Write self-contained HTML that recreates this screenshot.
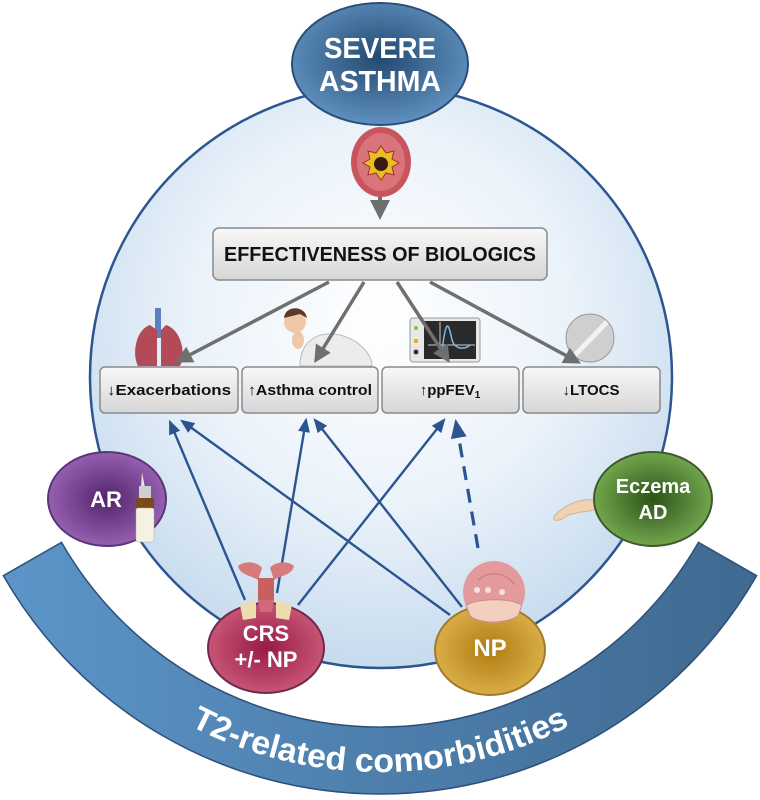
<!DOCTYPE html>
<html><head><meta charset="utf-8"><style>html,body{margin:0;padding:0;background:#fff}svg{display:block}</style></head>
<body>
<svg width="760" height="800" viewBox="0 0 760 800" xmlns="http://www.w3.org/2000/svg" font-family="'Liberation Sans', sans-serif">
<defs>
<radialGradient id="bg" cx="50%" cy="40%" r="60%"><stop offset="0" stop-color="#ffffff"/><stop offset="0.55" stop-color="#eaf2fa"/><stop offset="1" stop-color="#c6dbee"/></radialGradient>
<radialGradient id="sa" cx="50%" cy="45%" r="55%"><stop offset="0" stop-color="#23496f"/><stop offset="1" stop-color="#5f90bf"/></radialGradient>
<radialGradient id="ar" cx="50%" cy="50%" r="55%"><stop offset="0" stop-color="#52246a"/><stop offset="1" stop-color="#9d65b8"/></radialGradient>
<radialGradient id="ec" cx="50%" cy="50%" r="55%"><stop offset="0" stop-color="#2b5319"/><stop offset="1" stop-color="#79ae52"/></radialGradient>
<radialGradient id="crs" cx="50%" cy="50%" r="55%"><stop offset="0" stop-color="#981a46"/><stop offset="1" stop-color="#cc5a7a"/></radialGradient>
<radialGradient id="np" cx="50%" cy="50%" r="55%"><stop offset="0" stop-color="#b07c12"/><stop offset="1" stop-color="#ddb24c"/></radialGradient>
<linearGradient id="band" x1="0" y1="0" x2="1" y2="0"><stop offset="0" stop-color="#5c95c9"/><stop offset="1" stop-color="#3f6990"/></linearGradient>
<linearGradient id="box" x1="0" y1="0" x2="0" y2="1"><stop offset="0" stop-color="#f8f8f8"/><stop offset="1" stop-color="#d6d6d6"/></linearGradient>
<marker id="ga" markerWidth="5" markerHeight="5" refX="4" refY="2.5" orient="auto" markerUnits="strokeWidth"><path d="M0,0 L5,2.5 L0,5 Z" fill="#6f6f6f"/></marker>
<marker id="ba" markerWidth="6" markerHeight="5" refX="5" refY="2.5" orient="auto" markerUnits="strokeWidth"><path d="M0,0 L6,2.5 L0,5 Z" fill="#2c5590"/></marker>
<path id="tp" d="M23.2,566 A412 412 0 0 0 736.8,566"/>
</defs>

<!-- band -->
<path d="M3.4,575.7 A434 434 0 0 0 756.6,575.7 L698.5,542.4 A367 367 0 0 1 61.5,542.4 Z" fill="url(#band)" stroke="#2d4f7a" stroke-width="1.5"/>
<text font-size="33" font-weight="bold" fill="#fff" text-anchor="middle"><textPath href="#tp" startOffset="50%" textLength="395" lengthAdjust="spacingAndGlyphs">T2-related comorbidities</textPath></text>

<!-- main circle -->
<circle cx="381" cy="377" r="291" fill="url(#bg)" stroke="#2c5591" stroke-width="2.5"/>

<!-- severe asthma -->
<ellipse cx="380" cy="64" rx="88" ry="61" fill="url(#sa)" stroke="#2c4f7a" stroke-width="2"/>
<text x="380" y="58" font-size="29" font-weight="bold" fill="#fff" text-anchor="middle" textLength="112" lengthAdjust="spacingAndGlyphs">SEVERE</text>
<text x="380" y="91" font-size="29" font-weight="bold" fill="#fff" text-anchor="middle" textLength="122" lengthAdjust="spacingAndGlyphs">ASTHMA</text>

<!-- airway -->
<ellipse cx="381" cy="162" rx="30" ry="35" fill="#c8545d"/>
<ellipse cx="381" cy="162" rx="24" ry="29" fill="#d9757a"/>
<path d="M381,146 l5,7 8,-2 -2,8 7,4 -7,4 2,8 -8,-2 -5,7 -5,-7 -8,2 2,-8 -7,-4 7,-4 -2,-8 8,2z" fill="#e6c020" stroke="#a82a30"/>
<circle cx="381" cy="164" r="7" fill="#3a1a14"/>

<!-- gray arrow -->
<line x1="380" y1="197" x2="380" y2="216" stroke="#6f6f6f" stroke-width="4" marker-end="url(#ga)"/>

<!-- effectiveness box -->
<rect x="213" y="228" width="334" height="52" rx="6" fill="url(#box)" stroke="#8a8a8a" stroke-width="1.5"/>
<text x="380" y="261" font-size="20" font-weight="bold" fill="#111" text-anchor="middle" textLength="312" lengthAdjust="spacingAndGlyphs">EFFECTIVENESS OF BIOLOGICS</text>

<!-- illustrations -->
<g>
<rect x="155" y="308" width="6" height="30" fill="#5b7fbf"/>
<path d="M150,325 C135,330 132,355 138,366 L157,366 L157,330Z" fill="#b24a58"/>
<path d="M166,325 C182,330 186,355 180,366 L161,366 L161,330Z" fill="#b24a58"/>
</g>
<g>
<path d="M300,366 C300,340 320,330 340,335 C360,340 372,355 372,366Z" fill="#ececec" stroke="#bbb"/>
<circle cx="295" cy="322" r="11" fill="#f0c8a8"/>
<path d="M284,318 C285,305 305,305 307,318 L300,314Z" fill="#5a3a2a"/>
<ellipse cx="298" cy="340" rx="6" ry="9" fill="#f0c8a8"/>
</g>
<g>
<rect x="410" y="318" width="70" height="44" rx="3" fill="#e8e8e8" stroke="#999"/>
<rect x="424" y="321" width="52" height="38" fill="#2a2a2a"/>
<path d="M440,322 L440,355 M428,345 L475,345" stroke="#ccc" stroke-width="1"/>
<path d="M442,350 C446,320 448,320 452,340 C456,352 468,348 470,345" stroke="#7fb8e8" stroke-width="1.5" fill="none"/>
<circle cx="416" cy="328" r="2" fill="#7c3"/>
<rect x="414" y="339" width="4" height="4" fill="#e9b020"/>
<circle cx="416" cy="352" r="2.5" fill="#333"/>
</g>
<g>
<circle cx="590" cy="338" r="24" fill="#cfcfcf" stroke="#999"/>
<line x1="575" y1="355" x2="607" y2="322" stroke="#f2f2f2" stroke-width="5"/>
</g>

<!-- gray arrows to boxes -->
<g stroke="#6f6f6f" stroke-width="3.5" fill="none">
<line x1="329" y1="282" x2="178" y2="361" marker-end="url(#ga)"/>
<line x1="364" y1="282" x2="316" y2="360" marker-end="url(#ga)"/>
<line x1="397" y1="282" x2="448" y2="360" marker-end="url(#ga)"/>
<line x1="430" y1="282" x2="578" y2="362" marker-end="url(#ga)"/>
</g>

<!-- outcome boxes -->
<g stroke="#8a8a8a" stroke-width="1.5" fill="url(#box)">
<rect x="100" y="367" width="138" height="46" rx="5"/>
<rect x="242" y="367" width="136" height="46" rx="5"/>
<rect x="382" y="367" width="137" height="46" rx="5"/>
<rect x="523" y="367" width="137" height="46" rx="5"/>
</g>
<g font-size="15" font-weight="bold" fill="#111" text-anchor="middle">
<text x="169" y="395" textLength="124" lengthAdjust="spacingAndGlyphs">↓Exacerbations</text>
<text x="310" y="395" textLength="124" lengthAdjust="spacingAndGlyphs">↑Asthma control</text>
<text x="450" y="395">↑ppFEV<tspan font-size="10" dy="3">1</tspan></text>
<text x="591" y="395">↓LTOCS</text>
</g>

<!-- blue arrows -->
<g stroke="#2c5590" stroke-width="2.6" fill="none">
<line x1="245" y1="600" x2="170" y2="422" marker-end="url(#ba)" stroke-width="2.4"/>
<line x1="450" y1="615" x2="182" y2="421" marker-end="url(#ba)" stroke-width="2.4"/>
<line x1="277" y1="593" x2="306" y2="420" marker-end="url(#ba)" stroke-width="2.4"/>
<line x1="462" y1="607" x2="315" y2="420" marker-end="url(#ba)" stroke-width="2.4"/>
<line x1="298" y1="605" x2="444" y2="420" marker-end="url(#ba)" stroke-width="2.4"/>
<line x1="478" y1="548" x2="456" y2="422" marker-end="url(#ba)" stroke-width="3.2" stroke-dasharray="14,9"/>
</g>

<!-- AR -->
<ellipse cx="107" cy="499" rx="59" ry="47" fill="url(#ar)" stroke="#5a3575" stroke-width="2"/>
<text x="106" y="507" font-size="22" font-weight="bold" fill="#fff" text-anchor="middle">AR</text>
<path d="M142,472 L145,488 L141,488Z" fill="#e8e8e8"/>
<rect x="139" y="486" width="12" height="12" fill="#cfcfcf"/>
<rect x="136" y="498" width="18" height="22" rx="2" fill="#7a4a1a"/>
<rect x="136" y="508" width="18" height="34" rx="2" fill="#f6f2e2" stroke="#aaa" stroke-width="0.5"/>

<!-- Eczema -->
<path d="M595,500 C580,498 565,505 555,515 C550,522 560,522 568,515 L580,512 C588,512 596,510 600,505Z" fill="#f0d2b2" stroke="#d6b090"/>
<ellipse cx="653" cy="499" rx="59" ry="47" fill="url(#ec)" stroke="#3d5a2a" stroke-width="2"/>
<text x="653" y="493" font-size="20" font-weight="bold" fill="#fff" text-anchor="middle">Eczema</text>
<text x="653" y="519" font-size="20" font-weight="bold" fill="#fff" text-anchor="middle">AD</text>

<!-- CRS -->
<ellipse cx="266" cy="648" rx="58" ry="45" fill="url(#crs)" stroke="#6e2a4e" stroke-width="2"/>
<g>
<path d="M238,566 C245,560 258,562 262,568 L258,580 C250,575 240,575 238,566Z" fill="#d77a7a"/>
<path d="M294,566 C287,560 274,562 270,568 L274,580 C282,575 292,575 294,566Z" fill="#d77a7a"/>
<rect x="258" y="578" width="16" height="22" fill="#c86060"/>
<path d="M240,605 L256,600 L256,618 L243,620Z" fill="#ecdcb0"/>
<path d="M292,605 L276,600 L276,618 L289,620Z" fill="#ecdcb0"/>
<path d="M258,600 L274,600 L272,612 L260,612Z" fill="#d06a7a"/>
</g>
<text x="266" y="641" font-size="22" font-weight="bold" fill="#fff" text-anchor="middle">CRS</text>
<text x="266" y="667" font-size="22" font-weight="bold" fill="#fff" text-anchor="middle">+/- NP</text>

<!-- NP -->
<ellipse cx="490" cy="650" rx="55" ry="45" fill="url(#np)" stroke="#a27b2a" stroke-width="2"/>
<circle cx="494" cy="592" r="31" fill="#e39a9c"/>
<path d="M466,605 C480,598 510,598 522,605 L518,616 C505,624 480,624 470,616Z" fill="#f1d0c0" stroke="#c88"/>
<path d="M478,580 C490,570 505,572 515,585" stroke="#c77" fill="none"/>
<circle cx="477" cy="590" r="3" fill="#f6e0e0"/><circle cx="488" cy="590" r="3" fill="#f6e0e0"/><circle cx="502" cy="592" r="3" fill="#f6e0e0"/>
<text x="490" y="656" font-size="24" font-weight="bold" fill="#fff" text-anchor="middle">NP</text>
</svg>
</body></html>
